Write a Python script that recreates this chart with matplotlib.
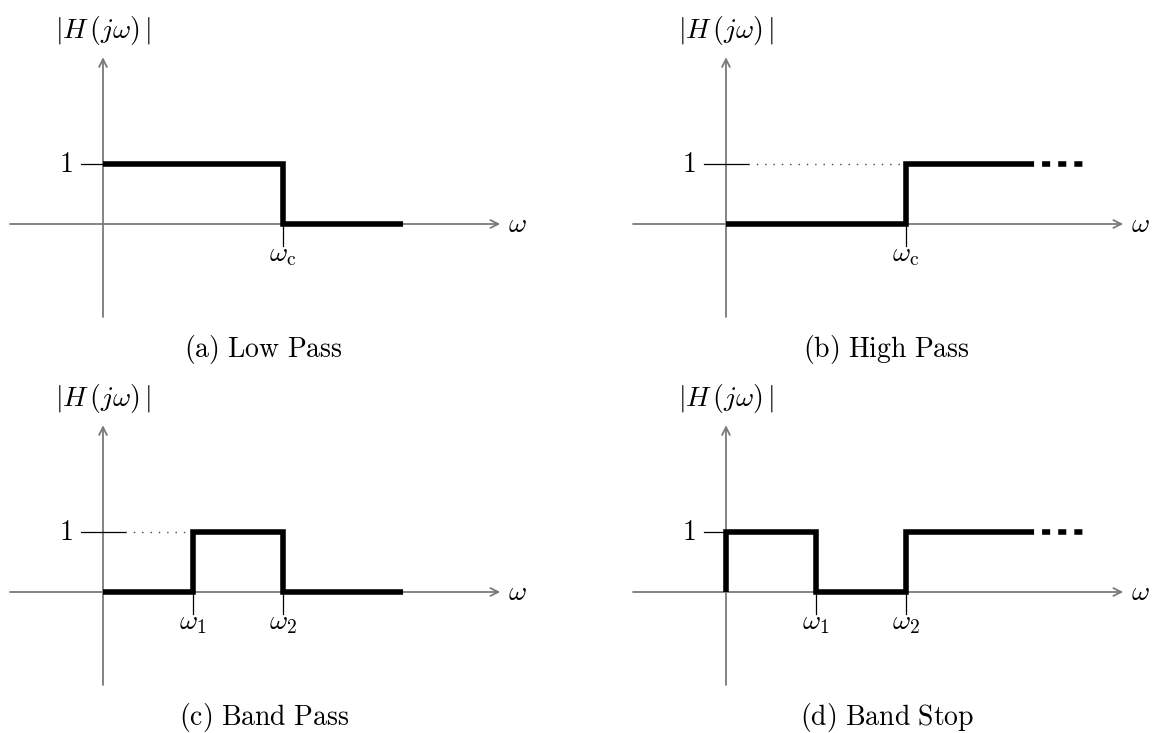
import matplotlib
matplotlib.use("Agg")
import matplotlib.pyplot as plt

plt.rcParams['mathtext.fontset'] = 'cm'
plt.rcParams['font.family'] = ['DejaVu Serif']

# step responses, breakpoints in units of the drawing
lp_x = [0, 3, 3, 5]
lp_y = [1, 1, 0, 0]
hp_x = [0, 3, 3, 5]
hp_y = [0, 0, 1, 1]
hp_tail_x = [5, 6]
hp_tail_y = [1, 1]
bp_x = [0, 1.5, 1.5, 3, 3, 5]
bp_y = [0, 0, 1, 1, 0, 0]
bs_x = [0, 0, 1.5, 1.5, 3, 3, 5]
bs_y = [0, 1, 1, 0, 0, 1, 1]
bs_tail_x = [5, 6]
bs_tail_y = [1, 1]

# cutoff ticks and labels
lp_ticks = [3]
lp_labels = [r'$\omega_{\rm c}$']
bp_ticks = [1.5, 3]
bp_labels = [r'$\omega_1$', r'$\omega_2$']
# dotted guide to the 1 level (end x)
hp_guide = 3
bp_guide = 1.5

captions = [r'$\mathrm{(a)\ Low\ Pass}$', r'$\mathrm{(b)\ High\ Pass}$',
            r'$\mathrm{(c)\ Band\ Pass}$', r'$\mathrm{(d)\ Band\ Stop}$']

W, H = 1153, 733
U = 60.0
XL = (-1.7, 7.4)
YL = (-2.3, 3.5)
FS = 20
axis_col = '#7a7a7a'

fig = plt.figure(figsize=(W / 100, H / 100), dpi=100)


def make_ax(ox, oy):
    left = (ox + XL[0] * U) / W
    bottom = (H - oy + YL[0] * U) / H
    ax = fig.add_axes([left, bottom, (XL[1] - XL[0]) * U / W, (YL[1] - YL[0]) * U / H])
    ax.set_xlim(*XL)
    ax.set_ylim(*YL)
    ax.axis('off')
    # axes with arrows
    ax.annotate('', xy=(6.62, 0), xytext=(-1.55, 0), zorder=1,
                arrowprops=dict(arrowstyle='->', color=axis_col, lw=1.3,
                                shrinkA=0, shrinkB=0, mutation_scale=14))
    ax.annotate('', xy=(0, 2.78), xytext=(0, -1.55), zorder=1,
                arrowprops=dict(arrowstyle='->', color=axis_col, lw=1.3,
                                shrinkA=0, shrinkB=0, mutation_scale=14))
    ax.text(6.75, 0, r'$\omega$', fontsize=FS, ha='left', va='center')
    ax.text(0, 3.22, r'$|H\,(j\omega)\,|$', fontsize=FS, ha='center', va='center')
    # tick at 1
    ax.plot([-0.36, 0.36], [1, 1], color='black', lw=0.9, zorder=2)
    ax.text(-0.5, 1, r'$1$', fontsize=FS, ha='right', va='center')
    return ax


def xticks(ax, ticks, labels):
    for t, lab in zip(ticks, labels):
        ax.plot([t, t], [-0.36, 0.36], color='black', lw=0.9, zorder=2)
        ax.text(t, -0.62, lab, fontsize=FS, ha='center', va='baseline')


def step(ax, xs, ys):
    ax.plot(xs, ys, color='black', lw=4, solid_joinstyle='miter',
            solid_capstyle='butt', zorder=5)


def tail(ax, xs, ys):
    ax.plot(xs, ys, color='black', lw=4, linestyle=(0, (1.45, 1.45)),
            dash_capstyle='butt', zorder=5)


def guide(ax, x_end):
    ax.plot([0.36, x_end], [1, 1], color='#444444', lw=1.0,
            linestyle=(0, (1, 5)), zorder=2)


origins = [(103, 224), (726, 224), (103, 592), (726, 592)]
axs = [make_ax(ox, oy) for ox, oy in origins]

# (a) low pass
xticks(axs[0], lp_ticks, lp_labels)
step(axs[0], lp_x, lp_y)

# (b) high pass
guide(axs[1], hp_guide)
xticks(axs[1], lp_ticks, lp_labels)
step(axs[1], hp_x, hp_y)
tail(axs[1], hp_tail_x, hp_tail_y)

# (c) band pass
guide(axs[2], bp_guide)
xticks(axs[2], bp_ticks, bp_labels)
step(axs[2], bp_x, bp_y)

# (d) band stop
xticks(axs[3], bp_ticks, bp_labels)
step(axs[3], bs_x, bs_y)
tail(axs[3], bs_tail_x, bs_tail_y)

for ax, cap in zip(axs, captions):
    ax.text(2.68, -2.1, cap, fontsize=FS, ha='center', va='center')

fig.savefig('out.png', dpi=100)
